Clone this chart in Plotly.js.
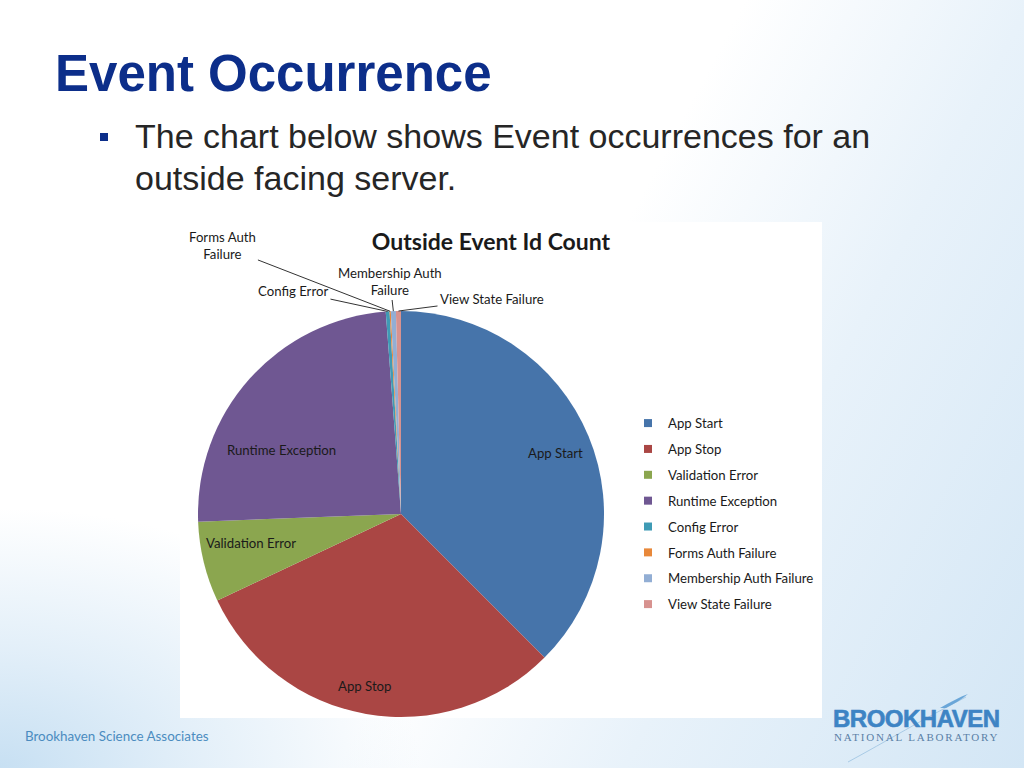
<!DOCTYPE html>
<html>
<head>
<meta charset="utf-8">
<script src="https://cdn.plot.ly/plotly-3.0.1.min.js"></script>
<style>
  html, body { margin:0; padding:0; }
  body {
    width:1024px; height:768px; overflow:hidden; position:relative;
    background:
      radial-gradient(ellipse 420px 260px at 0% 100%, rgba(196,222,242,0.95) 0%, rgba(214,232,246,0.7) 45%, rgba(255,255,255,0) 100%),
      linear-gradient(118deg, #ffffff 0%, #ffffff 52%, #e8f2fa 72%, #d3e6f5 100%);
    font-family: "Liberation Sans", Arial, sans-serif;
  }
  #title { position:absolute; left:55px; top:48px; font-size:51px; line-height:51px; font-weight:bold; color:#0c2e8a; white-space:nowrap; }
  #bullet { position:absolute; left:100px; top:133px; width:8px; height:8px; background:#0c2e8a; }
  #btext { position:absolute; left:135px; top:115px; font-size:34px; line-height:42px; color:#262626; white-space:nowrap; }
  #chart { position:absolute; left:180px; top:222px; width:642px; height:496px; }
  #footer { position:absolute; left:25px; top:728px; font-family:Lato, "Open Sans", sans-serif; font-size:13.4px; color:#4b8cc0; white-space:nowrap; }
  #logo1 { position:absolute; left:833px; top:707px; font-family:"Liberation Sans", sans-serif; font-weight:900; font-size:24px; line-height:24px; color:#3d84c4; letter-spacing:-0.5px; white-space:nowrap; -webkit-text-stroke:0.6px #3d84c4; }
  #logo2 { position:absolute; left:834px; top:731px; font-family:"Liberation Serif", serif; font-size:11px; line-height:12px; color:#5a80a6; letter-spacing:1.8px; white-space:nowrap; }
  #swoosh { position:absolute; left:0; top:0; }
</style>
</head>
<body>
<svg id="swoosh" width="1024" height="768">
  <path d="M848,762 C885,742 925,718 966,697" stroke="#a9cbe6" stroke-width="1" fill="none"/>
  <path d="M940,708 C950,702 960,697 968,694 C962,699 954,704 946,708 Z" fill="#6aa6d8"/>
</svg>
<div id="title">Event Occurrence</div>
<div id="bullet"></div>
<div id="btext">The chart below shows Event occurrences for an<br>outside facing server.</div>
<div id="chart"></div>
<div id="footer">Brookhaven Science Associates</div>
<div id="logo1">BROOKHAVEN</div>
<div id="logo2">NATIONAL LABORATORY</div>
<script>
// ---- data ----
const categories = ["App Start", "App Stop", "Validation Error", "Runtime Exception",
                    "Config Error", "Forms Auth Failure", "Membership Auth Failure", "View State Failure"];
const counts = [375, 305, 64, 244, 3, 1, 4, 4];
const sliceLabels = ["App Start", "App Stop", "Validation Error", "Runtime Exception",
                     "Config Error", "Forms Auth<br>Failure", "Membership Auth<br>Failure", "View State Failure"];
const colors = ["#4674aa", "#aa4644", "#8ba64f", "#6f5792", "#3f9bb5", "#e8883a", "#92aed4", "#d7928f"];

// ---- geometry / style ----
const W = 642, H = 496;
const cx = 221, cy = 292, R = 203;           // pie centre / radius in chart px
const FONT = "Lato, 'Open Sans', sans-serif";
const LBLSIZE = 13.2;

// label text centres (chart px); big slices sit inside, small ones get leader lines
const labelPos = [[375, 231], [185, 464], [71, 321], [101, 228],
                  [113, 69], [42, 24], [210, 59], [312, 77]];
const useLeader = [false, false, false, false, true, true, true, true];

const total = counts.reduce((a, b) => a + b, 0);
let cum = 0;
const mids = counts.map(v => { const m = (cum + v / 2) / total * 2 * Math.PI; cum += v; return m; });

const annotations = categories.map((c, i) => {
  const [lx, ly] = labelPos[i];
  const base = { xref: 'paper', yref: 'paper', text: sliceLabels[i], align: 'center',
                 font: { family: FONT, size: LBLSIZE, color: '#1a1a1a' } };
  if (!useLeader[i]) {
    return Object.assign(base, { x: lx / W, y: 1 - ly / H, showarrow: false, xanchor: 'center', yanchor: 'middle' });
  }
  const th = mids[i];
  const tx = cx + R * Math.sin(th), ty = cy - R * Math.cos(th);
  return Object.assign(base, {
    x: tx / W, y: 1 - ty / H, ax: lx - tx, ay: ly - ty, axref: 'pixel', ayref: 'pixel',
    showarrow: true, arrowhead: 0, arrowwidth: 1, arrowcolor: '#333', standoff: 0, startstandoff: 1
  });
});

const pie = {
  type: 'pie',
  labels: categories,
  values: counts,
  sort: false,
  direction: 'clockwise',
  rotation: 0,
  marker: { colors: colors, line: { width: 0 } },
  textinfo: 'none',
  hoverinfo: 'label+value+percent',
  showlegend: false,
  domain: { x: [(cx - R) / W, (cx + R) / W], y: [1 - (cy + R) / H, 1 - (cy - R) / H] },
  automargin: false
};

// legend entries (one per category, same colours)
const legendTraces = categories.map((c, i) => ({
  type: 'scatter', mode: 'markers', x: [0], y: [0], name: c, legendgroup: 'g' + i,
  marker: { symbol: 'square', size: 8, color: colors[i] }, hoverinfo: 'skip', showlegend: true,
  cliponaxis: true
}));

const layout = {
  width: W, height: H,
  margin: { l: 0, r: 0, t: 0, b: 0 },
  paper_bgcolor: '#ffffff',
  plot_bgcolor: 'rgba(0,0,0,0)',
  xaxis: { visible: false, range: [1, 2], domain: [0.99, 1], fixedrange: true },
  yaxis: { visible: false, range: [1, 2], domain: [0.99, 1], fixedrange: true },
  title: { text: '<b>Outside Event Id Count</b>', x: 491 / W - 180 / W, xanchor: 'center', y: 1 - 20 / H, yanchor: 'middle',
           font: { family: FONT, size: 23, color: '#1a1a1a' } },
  showlegend: true,
  legend: { x: 448 / W, xanchor: 'left', y: 1 - 186 / H, yanchor: 'top',
            traceorder: 'grouped', tracegroupgap: 5.7,
            font: { family: FONT, size: LBLSIZE, color: '#1a1a1a' }, bgcolor: 'rgba(0,0,0,0)' },
  annotations: annotations
};

Plotly.newPlot('chart', [pie].concat(legendTraces), layout, { staticPlot: true, displayModeBar: false });
</script>
</body>
</html>
